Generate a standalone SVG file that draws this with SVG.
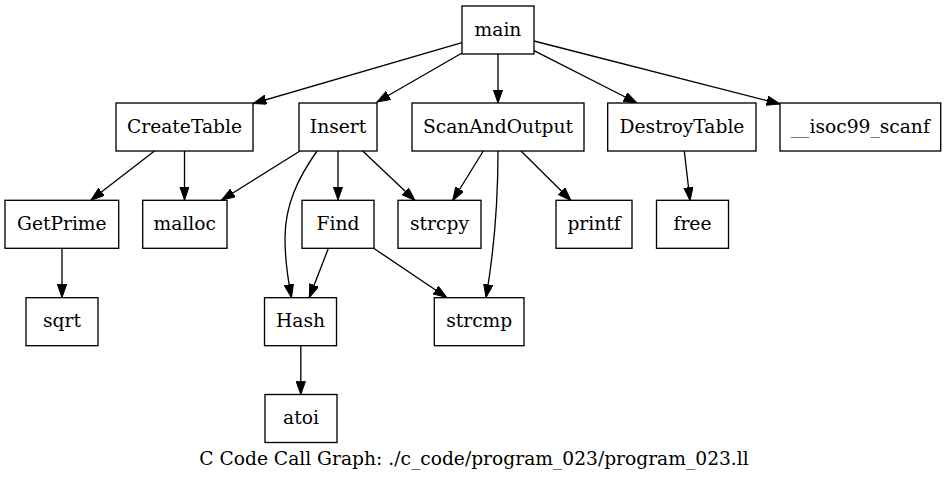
<svg xmlns="http://www.w3.org/2000/svg" width="946" height="480" viewBox="0 0 946 480">
<defs>
<style>
.node rect{fill:#ffffff;stroke:#000000;stroke-width:1.33}
.node text,.cap{font-family:"DejaVu Serif","Liberation Serif",serif;font-size:18.67px;fill:#000000;text-anchor:middle}
.edges path{fill:none;stroke:#000000;stroke-width:1.33;marker-end:url(#arr)}
</style>
<marker id="arr" markerUnits="userSpaceOnUse" markerWidth="14" markerHeight="10" refX="13.3" refY="4.7" orient="auto">
<path d="M0,0 L13.3,4.7 L0,9.4 Z" fill="#000000" stroke="#000000" stroke-width="1"/>
</marker>
</defs>
<rect x="0" y="0" width="946" height="480" fill="#ffffff"/>
<g class="edges" id="edges">
<path d="M462,42.7 L253,103.5"/>
<path d="M462,53 L377,102"/>
<path d="M498,54 L498,103"/>
<path d="M534,50.7 L637,103"/>
<path d="M534,41 L780,104"/>
<path d="M154.5,151 L91,200"/>
<path d="M184.5,151 L184.5,200"/>
<path d="M300,151 L221.7,200"/>
<path d="M317,151 C298,178 285,205 285,238 C285,258 287,275 291.5,297.5"/>
<path d="M338,151 L338,200"/>
<path d="M362.7,151 L415,200.5"/>
<path d="M483.3,151 L452.7,200.5"/>
<path d="M498,151 C498,190 496,240 486,297.5"/>
<path d="M521,151 L571,200.5"/>
<path d="M684.3,151 L690,200.5"/>
<path d="M62,248.5 L62,297.5"/>
<path d="M328.3,248.5 L309.3,297.5"/>
<path d="M373.3,248 L446.7,297.5"/>
<path d="M300.8,346 L300.8,394.5"/>
</g>
<g class="node" id="main"><rect x="462" y="6" width="72" height="48"/><text x="498" y="35.6">main</text></g>
<g class="node" id="CreateTable"><rect x="116" y="103" width="137" height="48"/><text x="184.5" y="132.6">CreateTable</text></g>
<g class="node" id="Insert"><rect x="299" y="103" width="78" height="48"/><text x="338" y="132.6">Insert</text></g>
<g class="node" id="ScanAndOutput"><rect x="412" y="103" width="172" height="48"/><text x="498" y="132.6">ScanAndOutput</text></g>
<g class="node" id="DestroyTable"><rect x="607.7" y="103" width="148.3" height="48"/><text x="682" y="132.6">DestroyTable</text></g>
<g class="node" id="isoc99_scanf"><rect x="780" y="103" width="160.7" height="48"/><text x="860.3" y="132.6">__isoc99_scanf</text></g>
<g class="node" id="GetPrime"><rect x="5" y="200.3" width="113.7" height="48"/><text x="61.8" y="229.9">GetPrime</text></g>
<g class="node" id="malloc"><rect x="142.7" y="200.3" width="84.3" height="48"/><text x="184.8" y="229.9">malloc</text></g>
<g class="node" id="Find"><rect x="302" y="200.3" width="72" height="48"/><text x="338" y="229.9">Find</text></g>
<g class="node" id="strcpy"><rect x="398" y="200.3" width="83" height="48"/><text x="439.5" y="229.9">strcpy</text></g>
<g class="node" id="printf"><rect x="556" y="200.3" width="76" height="48"/><text x="594" y="229.9">printf</text></g>
<g class="node" id="free"><rect x="656.5" y="200.3" width="72" height="48"/><text x="692.5" y="229.9">free</text></g>
<g class="node" id="sqrt"><rect x="26" y="297.7" width="72" height="48"/><text x="62" y="327.3">sqrt</text></g>
<g class="node" id="Hash"><rect x="264.5" y="297.7" width="72" height="48"/><text x="300.5" y="327.3">Hash</text></g>
<g class="node" id="strcmp"><rect x="434.3" y="297.7" width="89.7" height="48"/><text x="479.2" y="327.3">strcmp</text></g>
<g class="node" id="atoi"><rect x="265" y="394.5" width="72" height="48"/><text x="301" y="424.1">atoi</text></g>
<text class="cap" x="474" y="464.5">C Code Call Graph: ./c_code/program_023/program_023.ll</text>
</svg>
